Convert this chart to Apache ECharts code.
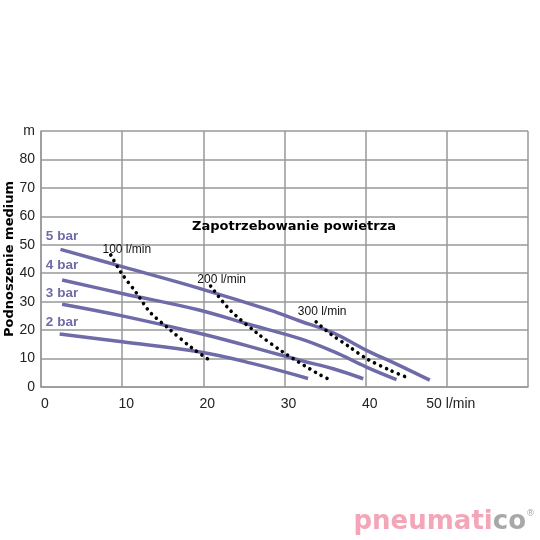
<!DOCTYPE html>
<html><head><meta charset="utf-8">
<script src="https://cdn.jsdelivr.net/npm/echarts@6/dist/echarts.min.js"></script>
<style>html,body{margin:0;padding:0;background:#fff}#c{width:540px;height:540px}</style>
</head><body><div id="c"></div>
<script>
const xTicks = [0, 10, 20, 30, 40, 50, 60];
const xTickLabels = ['0', '10', '20', '30', '40', '50 l/min', ''];
const yTickLabels = ['0', '10', '20', '30', '40', '50', '60', '70', '80', 'm'];
const pressureNames = ['5 bar', '4 bar', '3 bar', '2 bar'];
const bar5 = [[2.4,48.4],[10,42.3],[19.6,34.6],[28.2,27.0],[31.9,23.2],[36,19.0],[40.1,12.9],[44,7.8],[47.9,2.4]];
const bar4 = [[2.6,37.6],[10,32.9],[19.6,27.0],[25,22.5],[31.9,17.0],[36,12.5],[40.1,7.0],[43.8,2.6]];
const bar3 = [[2.6,29.1],[10,25.0],[19.6,18.8],[25,14.8],[31.9,9.4],[36,6.4],[39.7,2.9]];
const bar2 = [[2.3,18.6],[10,15.9],[19.6,12.3],[26,8.3],[32.9,3.0]];
const airNames = ['100 l/min', '200 l/min', '300 l/min'];
const air100 = [[8.6,46.4],[9.9,40.1],[11.8,32.9],[13.4,26.4],[15.7,20.6],[18.7,13.5],[20.8,9.4]];
const air200 = [[20.9,35.5],[23.3,27.0],[26.6,19.0],[29.8,12.3],[34.1,4.7],[35.5,2.7]];
const air300 = [[33.9,22.9],[35.6,18.8],[38.0,14.1],[40.1,10.0],[43.0,5.9],[45.4,3.0]];

const purple = '#6f6aa8';
const font = 'Liberation Sans, Arial, sans-serif';
const curves = [bar5, bar4, bar3, bar2];
const airs = [air100, air200, air300];
const airLabelOffsets = [[16, 6], [11, 5], [6, 1]];

const series = [];
curves.forEach((d, i) => series.push({
  name: pressureNames[i], type: 'line', data: d, smooth: 0.4, symbol: 'none',
  lineStyle: {color: purple, width: 3.5}, z: 2
}));
airs.forEach((d, i) => series.push({
  name: airNames[i], type: 'line',
  data: d.map((p, j) => j === 0 ? {
    value: p, label: {show: true, formatter: airNames[i], position: 'top', offset: airLabelOffsets[i],
      color: '#111', fontSize: 12, fontFamily: font}
  } : p),
  smooth: 0.3, symbol: 'circle', symbolSize: 0.1, showSymbol: true,
  itemStyle: {color: 'rgba(0,0,0,0)'},
  lineStyle: {color: '#000', width: 3.6, type: [0.01, 6.5], cap: 'round'}, z: 3
}));

const chart = echarts.init(document.getElementById('c'));
chart.setOption({
  animation: false,
  backgroundColor: '#fff',
  grid: {left: 41, right: 12, top: 131, bottom: 153, containLabel: false, outerBoundsMode: 'none'},
  title: {text: 'Zapotrzebowanie powietrza', left: 289, top: 215, textAlign: 'center',
    textStyle: {fontSize: 13, fontWeight: 'bold', color: '#000', fontFamily: 'DejaVu Sans, sans-serif'}},
  xAxis: {type: 'value', min: 0, max: 60, interval: 10,
    axisLine: {show: true, lineStyle: {color: '#999', width: 1.5}},
    axisTick: {show: false},
    splitLine: {show: true, lineStyle: {color: '#999', width: 1.5}},
    axisLabel: {color: '#222', fontSize: 14, fontFamily: font, margin: 10, padding: [0,0,0,8],
      formatter: v => xTickLabels[xTicks.indexOf(v)] ?? ''}},
  yAxis: {type: 'value', min: 0, max: 90, interval: 10,
    name: 'Podnoszenie medium', nameLocation: 'middle', nameGap: 25, nameMoveOverlap: false,
    nameTextStyle: {fontSize: 13, fontWeight: 'bold', color: '#000', fontFamily: 'DejaVu Sans, sans-serif'},
    axisLine: {show: true, lineStyle: {color: '#999', width: 1.5}},
    axisTick: {show: false},
    splitLine: {show: true, lineStyle: {color: '#999', width: 1.5}},
    axisLabel: {color: '#222', fontSize: 14, fontFamily: font, margin: 6,
      formatter: v => yTickLabels[Math.round(v / 10)]}},
  series: series
});

// pressure labels, placed from data coordinates just above their gridlines
const labelLevels = [50, 40, 30, 20];
const gfx = labelLevels.map((lv, i) => {
  const p = chart.convertToPixel({gridIndex: 0}, [0.6, lv]);
  return {type: 'text', left: p[0], top: p[1] - 15, z: 10,
    style: {text: pressureNames[i], fill: purple, font: 'bold 13.5px ' + font}};
});
gfx.push({type: 'text', right: 5, top: 509, z: 10,
  style: {rich: {a: {fill: '#f4a6b8', font: 'bold 26px DejaVu Sans, sans-serif'},
                 b: {fill: '#a8a8a8', font: 'bold 26px DejaVu Sans, sans-serif'},
                 r: {fill: '#a8a8a8', font: '9px DejaVu Sans, sans-serif', verticalAlign: 'top'}},
    text: '{a|pneumati}{b|co}{r|®}'}});
chart.setOption({graphic: gfx});
</script></body></html>
